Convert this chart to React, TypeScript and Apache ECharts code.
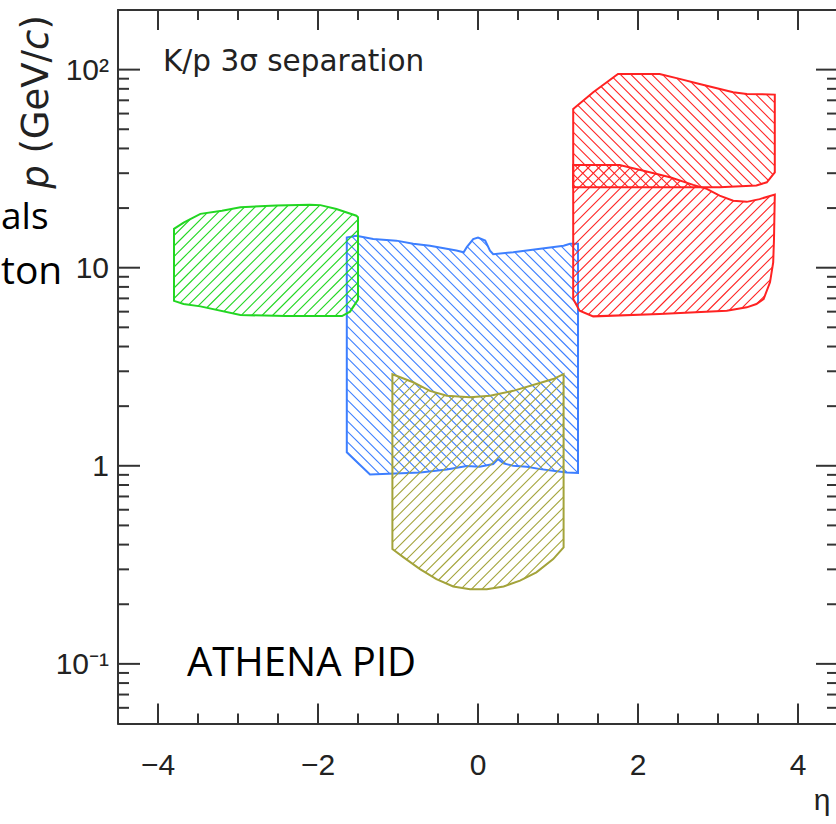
import React, { useEffect, useRef } from "react";
import * as echarts from "echarts";

// ---------- data ----------
const X_MIN = -4.5;
const X_MAX = 4.5;
const Y_MIN = 0.05;
const Y_MAX = 200;
const X_STEP = 0.5;

const xMajorTicks = [-4, -2, 0, 2, 4];
const xMinorTicks = [
  -3.5, -3, -2.5, -1.5, -1, -0.5, 0.5, 1, 1.5, 2.5, 3, 3.5,
];
const yMajorTicks = [0.1, 1, 10, 100];
const yMinorTicks = [
  0.06, 0.07, 0.08, 0.09,
  0.2, 0.3, 0.4, 0.5, 0.6, 0.7, 0.8, 0.9,
  2, 3, 4, 5, 6, 7, 8, 9,
  20, 30, 40, 50, 60, 70, 80, 90,
];

// [eta, p (GeV/c)] outlines
const greenRegion: [number, number][] = [
  [-3.8, 6.8], [-3.8, 15.7], [-3.68, 16.9], [-3.47, 18.7], [-3.2, 19.4], [-2.97, 20.2],
  [-2.52, 20.6], [-2.1, 20.8], [-1.97, 20.7], [-1.77, 19.8], [-1.52, 18.3], [-1.5, 18.0],
  [-1.5, 6.9], [-1.6, 6.0], [-1.7, 5.7], [-2.4, 5.7], [-2.97, 5.77], [-3.47, 6.38], [-3.68, 6.56],
];

const blueRegion: [number, number][] = [
  [-1.64, 14.2], [-1.52, 14.5], [-1.31, 13.96], [-1.02, 13.7], [-0.81, 13.2], [-0.6, 12.9],
  [-0.27, 12.2], [-0.18, 11.96], [-0.14, 12.7], [-0.06, 13.96], [0.0, 14.2], [0.09, 13.7],
  [0.15, 12.2], [0.19, 11.7], [0.44, 11.96], [0.73, 12.4], [1.07, 12.9], [1.15, 13.2], [1.25, 13.2],
  [1.25, 0.92], [1.11, 0.926], [0.94, 0.943], [0.78, 0.962], [0.61, 0.988], [0.44, 1.0],
  [0.32, 1.028], [0.25, 1.081], [0.19, 1.02], [0.02, 0.988], [-0.14, 0.997], [-0.39, 0.957],
  [-0.72, 0.926], [-1.35, 0.903], [-1.64, 1.17],
];

const oliveRegion: [number, number][] = [
  [-1.07, 2.9], [-0.81, 2.64], [-0.6, 2.39], [-0.39, 2.26], [-0.1, 2.22], [0.15, 2.26],
  [0.44, 2.39], [0.73, 2.59], [0.94, 2.74], [1.07, 2.9],
  [1.07, 0.387], [0.94, 0.338], [0.73, 0.29], [0.525, 0.263], [0.32, 0.246], [0.11, 0.238],
  [-0.1, 0.238], [-0.31, 0.246], [-0.52, 0.268], [-0.725, 0.301], [-0.93, 0.345], [-1.07, 0.38],
];

const redUpperRegion: [number, number][] = [
  [1.19, 63.3], [1.44, 76.9], [1.75, 95], [2.27, 95], [2.52, 89.8], [2.77, 84.7], [3.19, 76.9],
  [3.36, 75.4], [3.71, 74.8], [3.71, 30.3], [3.61, 27.0], [3.48, 26.0], [3.02, 25.5], [1.19, 25.5],
];

const redLowerRegion: [number, number][] = [
  [1.19, 33.0], [1.77, 33.0], [2.07, 30.9], [2.4, 28.6], [2.69, 26.2], [2.86, 25.0], [3.02, 23.1],
  [3.19, 21.8], [3.36, 21.5], [3.52, 22.2], [3.71, 23.4], [3.7, 13.96], [3.69, 10.65], [3.65, 8.44],
  [3.57, 6.95], [3.48, 6.56], [3.36, 6.31], [3.11, 6.06], [2.27, 5.84], [1.44, 5.68], [1.27, 6.06],
  [1.19, 6.95],
];

// ---------- styling ----------
const HATCH_STEP = 10.5;
const AXIS_COLOR = "#333";
const TICK_FONT = '"Liberation Sans", Arial, sans-serif';

const regions = [
  { name: "blue", points: blueRegion, color: "#3d7fff", k: -1 },
  { name: "olive", points: oliveRegion, color: "#a3a33a", k: 1 },
  { name: "green", points: greenRegion, color: "#22d622", k: 1 },
  { name: "redUpper", points: redUpperRegion, color: "#ff2222", k: -1 },
  { name: "redLower", points: redLowerRegion, color: "#ff2222", k: 1 },
];

function makeRenderItem(points: [number, number][], color: string, k: number) {
  return (params: any, api: any) => {
    if (params.dataIndex !== 0) return null;
    const px: number[][] = points.map((p) => api.coord(p));
    const children: any[] = [];
    const vals = px.map(([x, y]) => x + k * y);
    const cmin = Math.min(...vals);
    const cmax = Math.max(...vals);
    for (let c = Math.ceil(cmin / HATCH_STEP) * HATCH_STEP; c <= cmax; c += HATCH_STEP) {
      const hits: number[][] = [];
      for (let i = 0; i < px.length; i++) {
        const a = px[i];
        const b = px[(i + 1) % px.length];
        const fa = a[0] + k * a[1] - c;
        const fb = b[0] + k * b[1] - c;
        if (fa > 0 !== fb > 0) {
          const t = fa / (fa - fb);
          hits.push([a[0] + t * (b[0] - a[0]), a[1] + t * (b[1] - a[1])]);
        }
      }
      hits.sort((u, v) => u[0] - v[0]);
      for (let j = 0; j + 1 < hits.length; j += 2) {
        children.push({
          type: "line",
          shape: { x1: hits[j][0], y1: hits[j][1], x2: hits[j + 1][0], y2: hits[j + 1][1] },
          style: { stroke: color, lineWidth: 1.1 },
        });
      }
    }
    children.push({
      type: "polygon",
      shape: { points: px },
      style: { fill: "none", stroke: color, lineWidth: 2 },
    });
    return { type: "group", children };
  };
}

const SUP: Record<string, string> = { "-": "\u207b", "1": "\u00b9", "2": "\u00b2", "3": "\u00b3" };

function yLabel(v: number) {
  const l = Math.log10(v);
  const e = Math.round(l);
  if (Math.abs(l - e) > 1e-6) return "";
  if (e === 0) return "1";
  if (e === 1) return "10";
  return "10" + String(e).split("").map((ch) => SUP[ch] || ch).join("");
}

function xLabel(v: number) {
  const isMajor = xMajorTicks.some((t) => Math.abs(t - v) < 1e-6);
  if (!isMajor) return "";
  if (v < 0) return "\u2212" + Math.abs(v);
  return String(v);
}

const tickStyle = { stroke: AXIS_COLOR, lineWidth: 2 };

function xTickRender(len: number) {
  return (params: any, api: any) => {
    const v = api.value(0);
    const b = api.coord([v, Y_MIN]);
    const t = api.coord([v, Y_MAX]);
    return {
      type: "group",
      children: [
        { type: "line", shape: { x1: b[0], y1: b[1], x2: b[0], y2: b[1] - len }, style: tickStyle },
        { type: "line", shape: { x1: t[0], y1: t[1], x2: t[0], y2: t[1] + len }, style: tickStyle },
      ],
    };
  };
}

function yTickRender(len: number) {
  return (params: any, api: any) => {
    const v = api.value(1);
    const l = api.coord([X_MIN, v]);
    const r = api.coord([X_MAX, v]);
    return {
      type: "group",
      children: [
        { type: "line", shape: { x1: l[0], y1: l[1], x2: l[0] + len, y2: l[1] }, style: tickStyle },
        { type: "line", shape: { x1: r[0] - len, y1: r[1], x2: r[0], y2: r[1] }, style: tickStyle },
      ],
    };
  };
}

function tickSeries(name: string, data: number[][], renderItem: any) {
  return {
    type: "custom",
    name,
    coordinateSystem: "cartesian2d",
    xAxisIndex: 0,
    yAxisIndex: 0,
    data,
    encode: { x: 0, y: 1 },
    silent: true,
    clip: false,
    z: 10,
    renderItem,
  };
}

export default function App() {
  const ref = useRef<HTMLDivElement>(null);
  useEffect(() => {
    const chart = echarts.init(ref.current!, null, { renderer: "svg" });
    const axisLine = { show: true, onZero: false, lineStyle: { color: AXIS_COLOR, width: 2 } };
    const xBase = {
      type: "value",
      min: X_MIN,
      max: X_MAX,
      interval: X_STEP,
      splitLine: { show: false },
      axisLine,
      axisTick: { show: false },
      minorTick: { show: false },
    };
    const yBase = {
      type: "log",
      logBase: 10,
      min: Y_MIN,
      max: Y_MAX,
      splitLine: { show: false },
      axisLine,
      axisTick: { show: false },
      minorTick: { show: false },
    };
    const option: any = {
      animation: false,
      backgroundColor: "#fff",
      grid: { left: 118, top: 10, width: 720, height: 713.5, containLabel: false },
      xAxis: [
        {
          ...xBase,
          position: "bottom",
          axisLabel: {
            show: true,
            formatter: xLabel,
            margin: 26,
            fontSize: 30,
            fontFamily: TICK_FONT,
            color: "#222",
            showMinLabel: false,
            showMaxLabel: false,
            hideOverlap: false,
          },
        },
        { ...xBase, position: "top", axisLabel: { show: false } },
      ],
      yAxis: [
        {
          ...yBase,
          position: "left",
          axisLabel: {
            show: true,
            formatter: yLabel,
            margin: 9,
            fontSize: 30,
            fontFamily: TICK_FONT,
            color: "#222",
          },
        },
        { ...yBase, position: "right", axisLabel: { show: false } },
      ],
      series: [
        ...regions.map((r, i) => ({
          type: "custom",
          name: r.name,
          coordinateSystem: "cartesian2d",
          xAxisIndex: 0,
          yAxisIndex: 0,
          data: r.points,
          encode: { x: 0, y: 1 },
          renderItem: makeRenderItem(r.points, r.color, r.k),
          clip: true,
          silent: true,
          z: 2 + i,
        })),
        tickSeries("xMajor", xMajorTicks.map((v) => [v, Y_MIN]), xTickRender(20)),
        tickSeries("xMinor", xMinorTicks.map((v) => [v, Y_MIN]), xTickRender(10)),
        tickSeries("yMajor", yMajorTicks.map((v) => [X_MIN, v]), yTickRender(22)),
        tickSeries("yMinor", yMinorTicks.map((v) => [X_MIN, v]), yTickRender(11)),
      ],
      graphic: [
        {
          type: "text",
          x: 163,
          y: 61,
          style: {
            text: "K/p 3\u03c3 separation",
            fontSize: 29.5,
            fontFamily: '"DejaVu Sans", sans-serif',
            fill: "#222",
            align: "left",
            textAlign: "left",
            verticalAlign: "middle",
            textVerticalAlign: "middle",
          },
        },
        {
          type: "text",
          x: 35,
          y: 102,
          rotation: Math.PI / 2,
          style: {
            text: "{i|p}{n| (GeV/}{i|c}{n|)}",
            fontSize: 37,
            fontFamily: '"DejaVu Sans", sans-serif',
            fill: "#222",
            align: "center",
            textAlign: "center",
            verticalAlign: "middle",
            textVerticalAlign: "middle",
            rich: {
              i: { fontSize: 37, fontFamily: '"DejaVu Sans", sans-serif', fontStyle: "italic", fill: "#222", color: "#222" },
              n: { fontSize: 37, fontFamily: '"DejaVu Sans", sans-serif', fill: "#222", color: "#222" },
            },
          },
        },
        {
          type: "text",
          x: 822,
          y: 799,
          style: {
            text: "\u03b7",
            fontSize: 30,
            fontFamily: TICK_FONT,
            fill: "#222",
            align: "center",
            textAlign: "center",
            verticalAlign: "middle",
            textVerticalAlign: "middle",
          },
        },
        {
          type: "text",
          x: 187,
          y: 660,
          style: {
            text: "ATHENA PID",
            fontSize: 40,
            fontFamily: '"Open Sans", sans-serif',
            fill: "#000",
            align: "left",
            textAlign: "left",
            verticalAlign: "middle",
            textVerticalAlign: "middle",
          },
        },
        {
          type: "text",
          x: 1,
          y: 214,
          style: {
            text: "als",
            fontSize: 37,
            fontFamily: '"Open Sans", sans-serif',
            fill: "#000",
            align: "left",
            textAlign: "left",
            verticalAlign: "middle",
            textVerticalAlign: "middle",
          },
        },
        {
          type: "text",
          x: 1,
          y: 268,
          style: {
            text: "ton",
            fontSize: 39,
            fontFamily: '"Open Sans", sans-serif',
            fill: "#000",
            align: "left",
            textAlign: "left",
            verticalAlign: "middle",
            textVerticalAlign: "middle",
          },
        },
      ],
    };
    chart.setOption(option);
    return () => chart.dispose();
  }, []);
  return (
    <div
      style={{
        position: "fixed",
        left: 0,
        top: 0,
        width: 836,
        height: 824,
        overflow: "hidden",
        background: "#fff",
      }}
    >
      <div ref={ref} style={{ width: 842, height: 824 }} />
    </div>
  );
}
